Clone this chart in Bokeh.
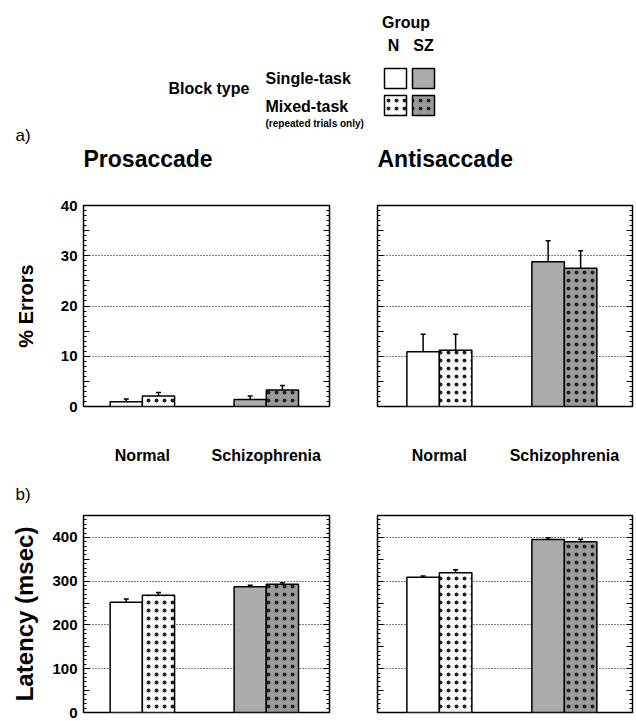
from bokeh.plotting import figure
from bokeh.layouts import column, row
from bokeh.models import (ColumnDataSource, Range1d, FixedTicker, CustomJSTickFormatter,
                          LinearAxis, Whisker, TeeHead)
from bokeh.core.properties import value
from bokeh.embed import file_html
from bokeh.resources import INLINE

FONT = "Liberation Sans"

# ---------------- data ----------------
groups = ["Normal", "Schizophrenia"]
group_pos = [1, 3]

# % Errors (mean, upper error-bar length)
pro_err_single = [0.95, 1.4]
pro_err_single_sem = [0.55, 0.7]
pro_err_mixed = [2.1, 3.3]
pro_err_mixed_sem = [0.7, 0.9]
anti_err_single = [10.9, 28.8]
anti_err_single_sem = [3.5, 4.2]
anti_err_mixed = [11.2, 27.5]
anti_err_mixed_sem = [3.2, 3.5]

# Latency (msec)
pro_lat_single = [252, 287]
pro_lat_single_sem = [7, 3.5]
pro_lat_mixed = [268, 293]
pro_lat_mixed_sem = [6, 3.5]
anti_lat_single = [309, 395]
anti_lat_single_sem = [3, 4]
anti_lat_mixed = [319, 390]
anti_lat_mixed_sem = [7, 6]

single_colors = ["#ffffff", "#ababab"]
mixed_colors = ["#ffffff", "#9b9b9b"]

BAR_W = 0.52
OFF = 0.26
HATCH = dict(hatch_pattern="dot", hatch_color="#222222", hatch_scale=8, hatch_weight=0.8)


def panel(single, single_sem, mixed, mixed_sem, y_max, major_step, minor_step, label_step,
          grid_vals, width, height, mbl, mbr, mbt, mbb, xr, show_ylabels, ylabel, show_x,
          ylabel_size="20px", ylabel_standoff=21):
    p = figure(width=width, height=height, x_range=Range1d(*xr), y_range=Range1d(0, y_max),
               output_backend="svg", toolbar_location=None,
               min_border_left=mbl, min_border_right=mbr, min_border_top=mbt, min_border_bottom=mbb)
    p.outline_line_color = "black"
    p.outline_line_width = 1.5
    p.outline_line_alpha = 1.0
    p.background_fill_color = "white"
    p.border_fill_color = "white"

    ticker = FixedTicker(ticks=list(range(0, y_max + 1, major_step)),
                         minor_ticks=list(range(0, y_max + 1, minor_step)))
    yax = p.yaxis[0]
    yax.ticker = ticker
    if show_ylabels:
        yax.formatter = CustomJSTickFormatter(
            code=f"return (Math.abs(tick % {label_step}) < 1e-9) ? tick.toFixed(0) : '';")
    else:
        yax.formatter = CustomJSTickFormatter(code="return '';")
    yax.axis_line_color = None
    yax.major_tick_in = 6
    yax.major_tick_out = 0
    yax.minor_tick_in = 3
    yax.minor_tick_out = 0
    yax.major_tick_line_color = "black"
    yax.minor_tick_line_color = "black"
    yax.major_label_text_font = FONT
    yax.major_label_text_font_style = "bold"
    yax.major_label_text_font_size = "15px"
    yax.major_label_text_color = "black"
    yax.major_label_standoff = 6 if show_ylabels else 0
    if ylabel:
        yax.axis_label = ylabel
        yax.axis_label_text_font = FONT
        yax.axis_label_text_font_style = "bold"
        yax.axis_label_text_font_size = ylabel_size
        yax.axis_label_text_color = "black"
        yax.axis_label_standoff = ylabel_standoff

    rax = LinearAxis(ticker=ticker, formatter=CustomJSTickFormatter(code="return '';"),
                     major_tick_in=6, major_tick_out=0, minor_tick_in=3, minor_tick_out=0,
                     axis_line_color=None, major_label_standoff=0,
                     major_tick_line_color="black", minor_tick_line_color="black")
    p.add_layout(rax, "right")

    xax = p.xaxis[0]
    if show_x:
        xax.ticker = FixedTicker(ticks=group_pos)
        xax.major_label_overrides = {group_pos[i]: groups[i] for i in range(len(groups))}
        xax.major_tick_in = 0
        xax.major_tick_out = 0
        xax.minor_tick_in = 0
        xax.minor_tick_out = 0
        xax.axis_line_color = None
        xax.major_label_standoff = 40
        xax.major_label_text_font = FONT
        xax.major_label_text_font_style = "bold"
        xax.major_label_text_font_size = "16px"
        xax.major_label_text_color = "black"
    else:
        xax.visible = False

    p.xgrid.visible = False
    p.ygrid.ticker = FixedTicker(ticks=grid_vals)
    p.ygrid.grid_line_color = "black"
    p.ygrid.grid_line_dash = "1 2"
    p.ygrid.grid_line_width = 1.2

    xs_single = [g - OFF for g in group_pos]
    xs_mixed = [g + OFF for g in group_pos]
    src_s = ColumnDataSource(dict(x=xs_single, top=single, fill=single_colors,
                                  upper=[v + e for v, e in zip(single, single_sem)]))
    src_m = ColumnDataSource(dict(x=xs_mixed, top=mixed, fill=mixed_colors,
                                  upper=[v + e for v, e in zip(mixed, mixed_sem)]))
    for src, hatched in ((src_s, False), (src_m, True)):
        w = Whisker(source=src, base="x", lower="top", upper="upper", dimension="height",
                    lower_head=None, upper_head=TeeHead(size=5, line_width=1.5, line_color="black"),
                    line_width=1.5, line_color="black")
        p.add_layout(w)
        kw = dict(x="x", top="top", bottom=0, width=BAR_W, source=src, fill_color="fill",
                  line_color="black", line_width=1.5)
        if hatched:
            kw.update(HATCH)
        p.vbar(**kw)
    return p


# ---------------- header (legend + titles) ----------------
HW, HH = 636, 172
hdr = figure(width=HW, height=HH, x_range=Range1d(0, HW), y_range=Range1d(HH, 0),
             output_backend="svg", toolbar_location=None, min_border=0,
             x_axis_location=None, y_axis_location=None)
hdr.xgrid.visible = False
hdr.ygrid.visible = False
hdr.outline_line_color = None


def htext(xs, ys, texts, size, style="bold", align="left"):
    # ys: desired baselines; svg text sits ~0.33em lower than requested
    adj = [y - 0.33 * size for y in ys]
    hdr.text(x=xs, y=adj, text=texts, text_font=value(FONT), text_font_style=style,
             text_font_size=f"{size}px", text_align=align, text_baseline="alphabetic",
             text_color="black")


htext([405.5], [27], ["Group"], 16, align="center")
htext([393, 423], [50, 50], ["N", "SZ"], 16, align="center")
htext([168], [93], ["Block type"], 16)
htext([265, 265], [83.5, 111.5], ["Single-task", "Mixed-task"], 16)
htext([265], [126.5], ["(repeated trials only)"], 10)
htext([15], [141], ["a)"], 17, style="normal")
htext([83, 377], [166, 166], ["Prosaccade", "Antisaccade"], 23)

sw_left = [384, 412]
sw_right = [406, 434]
hdr.quad(left=sw_left, right=sw_right, top=[68, 68], bottom=[88, 88],
         fill_color=single_colors, line_color="black", line_width=1.5)
hdr.quad(left=sw_left, right=sw_right, top=[95, 95], bottom=[115, 115],
         fill_color=mixed_colors, line_color="black", line_width=1.5, **HATCH)

# ---------------- panels ----------------
XR_L = (0.05, 4.02)
XR_R = (0.01, 4.09)

a1 = panel(pro_err_single, pro_err_single_sem, pro_err_mixed, pro_err_mixed_sem,
           40, 5, 1, 10, [10, 20, 30], 340, 298, 83, 11, 33, 64, XR_L, True, "% Errors", True,
           ylabel_size="20px", ylabel_standoff=21)
a2 = panel(anti_err_single, anti_err_single_sem, anti_err_mixed, anti_err_mixed_sem,
           40, 5, 1, 10, [10, 20, 30], 296, 298, 37, 4, 33, 64, XR_R, False, None, True)
b1 = panel(pro_lat_single, pro_lat_single_sem, pro_lat_mixed, pro_lat_mixed_sem,
           450, 50, 10, 100, [100, 200, 300, 400], 340, 251, 83, 11, 44, 9, XR_L, True,
           "Latency (msec)", False, ylabel_size="24px", ylabel_standoff=11)
b2 = panel(anti_lat_single, anti_lat_single_sem, anti_lat_mixed, anti_lat_mixed_sem,
           450, 50, 10, 100, [100, 200, 300, 400], 296, 251, 37, 4, 44, 9, XR_R, False, None, False)

b1.title.text = "b)"
b1.title.align = "left"
b1.title.offset = -68
b1.title.standoff = 24
b1.title.text_font = FONT
b1.title.text_font_style = "normal"
b1.title.text_font_size = "17px"
b1.title.text_color = "black"

layout = column(hdr, row(a1, a2), row(b1, b2))

open("out.html", "w").write(file_html(layout, INLINE))
